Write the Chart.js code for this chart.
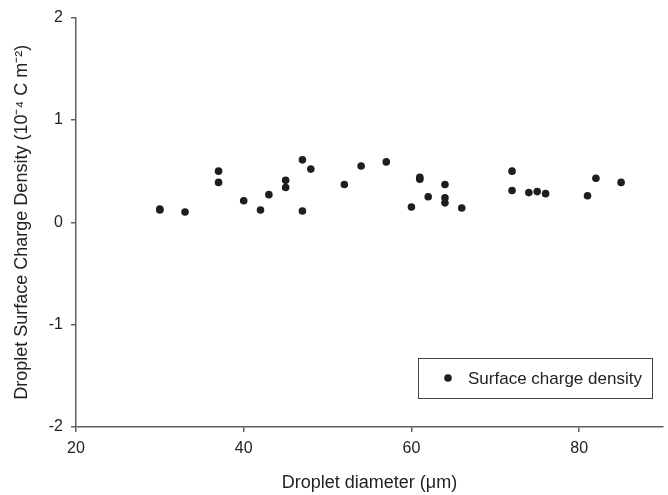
<!DOCTYPE html>
<html>
<head>
<meta charset="utf-8">
<script src="https://cdn.jsdelivr.net/npm/chart.js@4.4.1/dist/chart.umd.min.js"></script>
<style>
  html, body { margin: 0; padding: 0; background: #fff; }
  #wrap { width: 668px; height: 495px; }
</style>
</head>
<body>
<div id="wrap"><canvas id="c" width="668" height="495"></canvas></div>
<script>
// ---- data ----
const seriesLabel = 'Surface charge density';
const diameters = [30, 30, 33, 37, 37, 40, 42, 43, 45, 45, 47, 47, 48, 52, 54, 57, 60, 61, 61, 62, 64, 64, 64, 66, 72, 72, 74, 75, 76, 81, 82, 85];
const charges   = [0.12, 0.13, 0.10, 0.50, 0.39, 0.21, 0.12, 0.27, 0.41, 0.34, 0.61, 0.11, 0.52, 0.37, 0.55, 0.59, 0.15, 0.42, 0.44, 0.25, 0.37, 0.24, 0.19, 0.14, 0.50, 0.31, 0.29, 0.30, 0.28, 0.26, 0.43, 0.39];
const xTicks = [20, 40, 60, 80];
const yTicks = [-2, -1, 0, 1, 2];
const xTitle = 'Droplet diameter (\u03bcm)';
const yTitle = 'Droplet Surface Charge Density (10\u207b\u2074 C m\u207b\u00b2)';

const points = diameters.map((d, i) => ({ x: d, y: charges[i] }));
const FONT = "'Liberation Sans', Arial, sans-serif";
const AXIS_COLOR = '#606060';
const TEXT_COLOR = '#222';

const legendBox = {
  id: 'legendBox',
  afterDraw(chart) {
    const ctx = chart.ctx;
    const a = chart.chartArea;
    const ds = chart.data.datasets[0];
    const x0 = a.right - 245, y0 = a.bottom - 69, w = 234, h = 40;
    ctx.save();
    ctx.fillStyle = '#fff';
    ctx.fillRect(x0, y0, w, h);
    ctx.strokeStyle = '#444';
    ctx.lineWidth = 1;
    ctx.strokeRect(x0 + 0.5, y0 + 0.5, w, h);
    ctx.fillStyle = ds.backgroundColor;
    ctx.beginPath();
    ctx.arc(x0 + 30, y0 + h / 2, ds.pointRadius, 0, Math.PI * 2);
    ctx.fill();
    ctx.fillStyle = TEXT_COLOR;
    ctx.font = '17px ' + FONT;
    ctx.textBaseline = 'middle';
    ctx.textAlign = 'left';
    ctx.fillText(ds.label, x0 + 50, y0 + h / 2 + 1);
    ctx.restore();
  }
};

new Chart(document.getElementById('c'), {
  type: 'scatter',
  data: {
    datasets: [{
      label: seriesLabel,
      data: points,
      backgroundColor: '#1e1e1e',
      borderColor: '#1e1e1e',
      pointRadius: 3.8,
      pointHoverRadius: 3.8,
      borderWidth: 0
    }]
  },
  options: {
    responsive: false,
    animation: false,
    events: [],
    layout: { padding: { top: 17, right: 5, left: 0, bottom: 0 } },
    plugins: { legend: { display: false }, tooltip: { enabled: false } },
    scales: {
      x: {
        type: 'linear',
        min: 20, max: 90,
        afterBuildTicks: s => { s.ticks = xTicks.map(v => ({ value: v })); },
        afterFit: s => { s.height = 68; },
        grid: { display: true, drawOnChartArea: false, drawTicks: true, tickLength: 5, color: AXIS_COLOR, lineWidth: 1.5 },
        border: { display: true, color: AXIS_COLOR, width: 1.5 },
        ticks: { color: TEXT_COLOR, font: { family: FONT, size: 16 }, padding: 7, maxRotation: 0 },
        title: { display: true, text: xTitle, color: TEXT_COLOR, font: { family: FONT, size: 18 }, padding: { top: 0, bottom: 1 } }
      },
      y: {
        type: 'linear',
        min: -2, max: 2,
        afterBuildTicks: s => { s.ticks = yTicks.map(v => ({ value: v })); },
        afterFit: s => { s.width = 76; },
        grid: { display: true, drawOnChartArea: false, drawTicks: true, tickLength: 5, color: AXIS_COLOR, lineWidth: 1.5 },
        border: { display: true, color: AXIS_COLOR, width: 1.5 },
        ticks: { color: TEXT_COLOR, font: { family: FONT, size: 16 }, padding: 8 },
        title: { display: true, text: yTitle, color: TEXT_COLOR, font: { family: FONT, size: 18 }, padding: { top: 11, bottom: 0 } }
      }
    }
  },
  plugins: [legendBox]
});
</script>
</body>
</html>
